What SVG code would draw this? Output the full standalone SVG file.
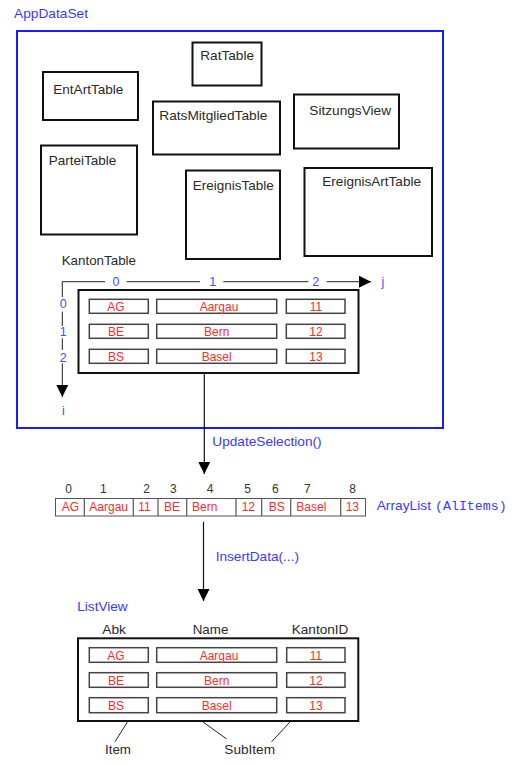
<svg xmlns="http://www.w3.org/2000/svg" width="518" height="765" viewBox="0 0 518 765">
<style>
  .lbl{font-family:"Liberation Sans",Arial,sans-serif;font-size:13px;fill:#2a2a2a}
  .blue{font-family:"Liberation Sans",Arial,sans-serif;font-size:13px;fill:#3a3aff}
  .ax{font-family:"Liberation Sans",Arial,sans-serif;font-size:12.5px;fill:#4a4aff;text-anchor:middle}
  .red{font-family:"Liberation Sans",Arial,sans-serif;font-size:12px;fill:#ff2a2a;text-anchor:middle}
  .redl{font-family:"Liberation Sans",Arial,sans-serif;font-size:12px;fill:#ff2a2a}
  .idx{font-family:"Liberation Sans",Arial,sans-serif;font-size:12px;fill:#333;text-anchor:middle}
  .mono{font-family:"Liberation Mono","Courier New",monospace;font-size:12.5px;fill:#3a3aff}
  .box{fill:#fff;stroke:#111;stroke-width:2}
  .cell{fill:#fff;stroke:#444;stroke-width:1.5}
  .acell{fill:#fff;stroke:#555;stroke-width:1}
  .line{stroke:#111;stroke-width:1.2;fill:none}
  .thin{stroke:#222;stroke-width:1;fill:none}
</style>
<defs>
  <marker id="arr" markerUnits="userSpaceOnUse" markerWidth="13" markerHeight="12" refX="12" refY="6" orient="auto">
    <path d="M0,0 L12,6 L0,12 z" fill="#000"/>
  </marker>
</defs>
<rect width="518" height="765" fill="#fff"/>

<g id="appdataset">
  <text class="blue" x="14" y="18.3" textLength="74" lengthAdjust="spacingAndGlyphs">AppDataSet</text>
  <rect x="17" y="31" width="426" height="397" fill="none" stroke="#1a1aff" stroke-width="2"/>
</g>

<g id="rattable">
  <rect class="box" x="192.5" y="42.5" width="69" height="43"/>
  <text class="lbl" x="200.3" y="60" textLength="53.7" lengthAdjust="spacingAndGlyphs">RatTable</text>
</g>
<g id="entarttable">
  <rect class="box" x="43" y="72" width="95" height="48"/>
  <text class="lbl" x="53.3" y="94.3" textLength="70" lengthAdjust="spacingAndGlyphs">EntArtTable</text>
</g>
<g id="ratsmitgliedtable">
  <rect class="box" x="153" y="101.5" width="127" height="53"/>
  <text class="lbl" x="159.3" y="120.3" textLength="108" lengthAdjust="spacingAndGlyphs">RatsMitgliedTable</text>
</g>
<g id="sitzungsview">
  <rect class="box" x="294" y="94.5" width="105" height="54"/>
  <text class="lbl" x="309.3" y="114.7" textLength="81.7" lengthAdjust="spacingAndGlyphs">SitzungsView</text>
</g>
<g id="parteitable">
  <rect class="box" x="41" y="145.5" width="96" height="89"/>
  <text class="lbl" x="48.7" y="165.3" textLength="67.7" lengthAdjust="spacingAndGlyphs">ParteiTable</text>
</g>
<g id="ereignistable">
  <rect class="box" x="186" y="170.5" width="94" height="88.5"/>
  <text class="lbl" x="192.7" y="190" textLength="81" lengthAdjust="spacingAndGlyphs">EreignisTable</text>
</g>
<g id="ereignisarttable">
  <rect class="box" x="304.5" y="168" width="127.5" height="88"/>
  <text class="lbl" x="322.3" y="185.7" textLength="98.7" lengthAdjust="spacingAndGlyphs">EreignisArtTable</text>
</g>

<g id="kantontable">
  <text class="lbl" x="61.7" y="265.3" textLength="74.3" lengthAdjust="spacingAndGlyphs">KantonTable</text>
  <path class="thin" d="M62.3,281.7 H105 M126.7,281.7 H200 M223.3,281.7 H308.3"/>
  <line class="thin" x1="326.7" y1="281.7" x2="371" y2="281.7" marker-end="url(#arr)"/>
  <text class="ax" x="116" y="286">0</text>
  <text class="ax" x="212.7" y="286">1</text>
  <text class="ax" x="315.7" y="286">2</text>
  <text class="ax" x="383" y="286">j</text>
  <path class="thin" d="M62.3,281.7 V297 M62.3,311.7 V326 M62.3,338.3 V350"/>
  <line class="thin" x1="62.3" y1="363.3" x2="62.3" y2="397" marker-end="url(#arr)"/>
  <text class="ax" x="63.3" y="308">0</text>
  <text class="ax" x="63.3" y="336">1</text>
  <text class="ax" x="63.3" y="361.5">2</text>
  <text class="ax" x="63.3" y="414.5">i</text>
  <rect class="box" x="78.5" y="290" width="280" height="83"/>
  <rect class="cell" x="89.3" y="299.3" width="59" height="14"/>
  <rect class="cell" x="156.7" y="299.3" width="120" height="14"/>
  <rect class="cell" x="286.3" y="299.3" width="58.7" height="14"/>
  <rect class="cell" x="89.3" y="324.3" width="59" height="14"/>
  <rect class="cell" x="156.7" y="324.3" width="120" height="14"/>
  <rect class="cell" x="286.3" y="324.3" width="58.7" height="14"/>
  <rect class="cell" x="89.3" y="349.3" width="59" height="14"/>
  <rect class="cell" x="156.7" y="349.3" width="120" height="14"/>
  <rect class="cell" x="286.3" y="349.3" width="58.7" height="14"/>
  <text class="red" x="116" y="311">AG</text>
  <text class="red" x="219" y="311">Aargau</text>
  <text class="red" x="316" y="311">11</text>
  <text class="red" x="116" y="336">BE</text>
  <text class="red" x="216.7" y="336">Bern</text>
  <text class="red" x="316" y="336">12</text>
  <text class="red" x="116" y="361">BS</text>
  <text class="red" x="216.7" y="361">Basel</text>
  <text class="red" x="316" y="361">13</text>
</g>

<g id="connectors">
  <line class="line" x1="204.3" y1="373" x2="204.3" y2="474" marker-end="url(#arr)"/>
  <text class="blue" x="212.3" y="446" textLength="109.3" lengthAdjust="spacingAndGlyphs">UpdateSelection()</text>
  <line class="line" x1="203.5" y1="521.7" x2="203.5" y2="601" marker-end="url(#arr)"/>
  <text class="blue" x="215.7" y="560.5" textLength="83.3" lengthAdjust="spacingAndGlyphs">InsertData(...)</text>
  <line class="thin" x1="135" y1="710" x2="115" y2="741.7"/>
  <line class="thin" x1="184" y1="708.3" x2="226.7" y2="739"/>
  <line class="thin" x1="302.7" y1="708.3" x2="271.7" y2="741.7"/>
</g>

<g id="arraylist">
  <text class="idx" x="68.7" y="493">0</text>
  <text class="idx" x="103.3" y="493">1</text>
  <text class="idx" x="146.7" y="493">2</text>
  <text class="idx" x="173.3" y="493">3</text>
  <text class="idx" x="210" y="493">4</text>
  <text class="idx" x="247.7" y="493">5</text>
  <text class="idx" x="275.3" y="493">6</text>
  <text class="idx" x="307.3" y="493">7</text>
  <text class="idx" x="352.7" y="493">8</text>
  <rect class="acell" x="55.5" y="498.5" width="310" height="17.5"/>
  <path d="M84.3,498.5 V516 M133.3,498.5 V516 M158,498.5 V516 M186.7,498.5 V516 M236,498.5 V516 M261.7,498.5 V516 M290.7,498.5 V516 M340.7,498.5 V516" stroke="#555" stroke-width="1.2" fill="none"/>
  <text class="redl" x="61.7" y="511.3">AG</text>
  <text class="redl" x="89.3" y="511.3">Aargau</text>
  <text class="redl" x="138.3" y="511.3">11</text>
  <text class="redl" x="164" y="511.3">BE</text>
  <text class="redl" x="192" y="511.3">Bern</text>
  <text class="redl" x="241.7" y="511.3">12</text>
  <text class="redl" x="268.7" y="511.3">BS</text>
  <text class="redl" x="296.3" y="511.3">Basel</text>
  <text class="redl" x="345.7" y="511.3">13</text>
  <text class="blue" x="376.7" y="510" textLength="54.3" lengthAdjust="spacingAndGlyphs">ArrayList</text>
  <text class="mono" x="435" y="510" textLength="71.7" lengthAdjust="spacingAndGlyphs">(AlItems)</text>
</g>

<g id="listview">
  <text class="blue" x="77.3" y="610.7" textLength="50.3" lengthAdjust="spacingAndGlyphs">ListView</text>
  <text class="lbl" x="102.3" y="634" textLength="23.7" lengthAdjust="spacingAndGlyphs">Abk</text>
  <text class="lbl" x="192.7" y="634" textLength="35.7" lengthAdjust="spacingAndGlyphs">Name</text>
  <text class="lbl" x="291.7" y="634" textLength="56.7" lengthAdjust="spacingAndGlyphs">KantonID</text>
  <rect class="box" x="78" y="638.3" width="280.3" height="82.7"/>
  <rect class="cell" x="89.3" y="647.7" width="59" height="14.6"/>
  <rect class="cell" x="156.7" y="647.7" width="120" height="14.6"/>
  <rect class="cell" x="286.7" y="647.7" width="58.3" height="14.6"/>
  <rect class="cell" x="89.3" y="672.7" width="59" height="14.6"/>
  <rect class="cell" x="156.7" y="672.7" width="120" height="14.6"/>
  <rect class="cell" x="286.7" y="672.7" width="58.3" height="14.6"/>
  <rect class="cell" x="89.3" y="697.7" width="59" height="15"/>
  <rect class="cell" x="156.7" y="697.7" width="120" height="15"/>
  <rect class="cell" x="286.7" y="697.7" width="58.3" height="15"/>
  <text class="red" x="116" y="659.5">AG</text>
  <text class="red" x="219" y="659.5">Aargau</text>
  <text class="red" x="316" y="659.5">11</text>
  <text class="red" x="116" y="684.5">BE</text>
  <text class="red" x="216.7" y="684.5">Bern</text>
  <text class="red" x="316" y="684.5">12</text>
  <text class="red" x="116" y="709.5">BS</text>
  <text class="red" x="216.7" y="709.5">Basel</text>
  <text class="red" x="316" y="709.5">13</text>
</g>

<g id="item">
  <text class="lbl" x="105" y="754.3" textLength="26" lengthAdjust="spacingAndGlyphs">Item</text>
</g>
<g id="subitem">
  <text class="lbl" x="224.3" y="754.3" textLength="50.7" lengthAdjust="spacingAndGlyphs">SubItem</text>
</g>
</svg>
